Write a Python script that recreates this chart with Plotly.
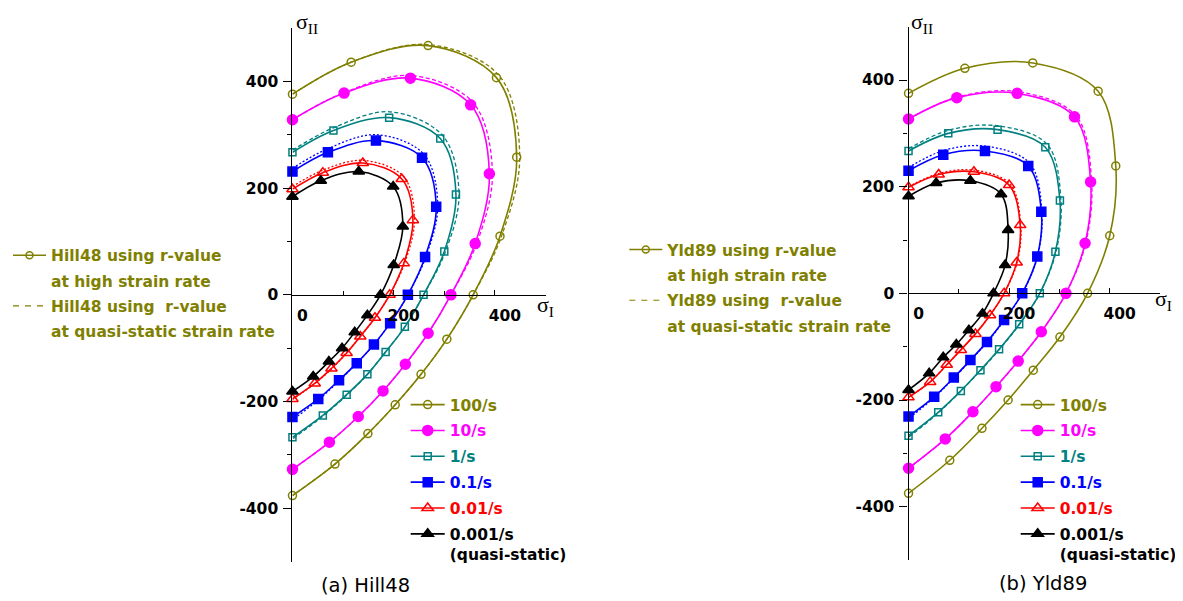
import plotly.graph_objects as go

# The page has an 8px body margin; the figure is sized to fill the rest of the window.
PAGE_W, PAGE_H, BODY = 1183, 601, 8
W, H = PAGE_W - BODY, PAGE_H - BODY


def PX(x):
    return (x - BODY) / W


def PY(y):
    return 1 - (y - BODY) / H


# ---------------- data (sigma_I, sigma_II) ----------------
rates = ['100/s', '10/s', '1/s', '0.1/s', '0.01/s', '0.001/s']
rate_labels = ['100/s', '10/s', '1/s', '0.1/s', '0.01/s', '0.001/s<br>(quasi-static)']
colors = ['#808000', '#FF00FF', '#008080', '#0000FF', '#FF0000', '#000000']
symbols = ['circle-open', 'circle', 'square-open', 'square', 'triangle-up-open', 'triangle-up']
msizes = [8, 10, 7, 9, 10, 10]
dashes = ['4px,2.5px', '4px,2.5px', '4px,2.5px', '2px,2px', '2px,2px', '4px,2.5px']

# Hill48, r-value at high strain rate (solid)
hill48_100 = [(0, 376), (116, 436), (268, 467), (403, 407), (443, 258), (410, 110), (357, 0),
              (305, -83), (254, -149), (203, -206), (149, -260), (84, -317), (0, -376)]
hill48_10 = [(0, 328), (102, 378), (233, 406), (352, 356), (389, 227), (361, 96), (313, 0),
             (268, -72), (223, -130), (179, -180), (130, -228), (73, -276), (0, -327)]
hill48_1 = [(0, 267), (81, 308), (191, 332), (292, 293), (323, 188), (300, 81), (259, 0),
            (222, -60), (184, -107), (148, -149), (107, -187), (60, -226), (0, -267)]
hill48_01 = [(0, 231), (70, 267), (165, 289), (256, 257), (284, 165), (262, 71), (228, 0),
             (193, -53), (161, -93), (127, -128), (92, -160), (51, -195), (0, -229)]
hill48_001 = [(0, 198), (60, 229), (139, 247), (216, 217), (238, 140), (220, 59), (192, 0),
              (163, -43), (134, -78), (107, -109), (77, -138), (44, -166), (0, -195)]
hill48_0001 = [(0, 184), (56, 214), (131, 231), (199, 203), (218, 128), (200, 56), (174, 0),
               (148, -38), (123, -70), (98, -100), (72, -125), (41, -153), (0, -181)]

# Hill48, r-value at quasi-static strain rate (dashed)
hill48_100_qs = [(0, 376), (116, 436), (268, 469), (408, 411), (449, 259), (413, 110), (357, 0),
                 (305, -83), (254, -149), (203, -206), (149, -260), (84, -317), (0, -376)]
hill48_10_qs = [(0, 328), (102, 379), (234, 411), (357, 360), (395, 228), (364, 96), (313, 0),
                (268, -72), (223, -130), (179, -180), (130, -228), (73, -276), (0, -327)]
hill48_1_qs = [(0, 271), (81, 313), (192, 343), (297, 298), (329, 189), (302, 80), (259, 0),
               (222, -60), (183, -108), (146, -151), (105, -190), (58, -229), (0, -270)]
hill48_01_qs = [(0, 237), (70, 274), (166, 300), (260, 263), (287, 166), (263, 70), (228, 0),
                (193, -53), (160, -94), (125, -130), (90, -163), (50, -198), (0, -234)]
hill48_001_qs = [(0, 203), (61, 234), (140, 252), (220, 221), (241, 141), (221, 58), (192, 0),
                 (163, -43), (134, -78), (106, -110), (77, -139), (43, -167), (0, -196)]

# Yld89, r-value at high strain rate (solid)
yld89_100 = [(0, 375), (112, 422), (247, 432), (377, 379), (412, 239), (400, 108), (356, 0),
             (301, -82), (248, -144), (198, -200), (146, -253), (82, -313), (0, -375)]
yld89_10 = [(0, 327), (96, 367), (216, 375), (330, 331), (362, 209), (351, 94), (313, 0),
            (264, -72), (218, -127), (174, -175), (128, -222), (73, -273), (0, -328)]
yld89_1 = [(0, 267), (79, 300), (177, 307), (272, 274), (301, 174), (292, 78), (261, 0),
           (220, -58), (180, -105), (143, -144), (104, -183), (59, -223), (0, -267)]
yld89_01 = [(0, 230), (69, 260), (152, 267), (238, 239), (264, 153), (256, 69), (226, 0),
            (190, -50), (156, -91), (123, -125), (90, -158), (51, -194), (0, -231)]
yld89_001 = [(0, 199), (60, 223), (130, 228), (200, 203), (222, 128), (215, 58), (190, 0),
             (162, -41), (133, -76), (104, -106), (76, -134), (43, -166), (0, -195)]
yld89_0001 = [(0, 182), (55, 207), (123, 211), (184, 186), (198, 119), (192, 53), (169, 0),
              (147, -38), (120, -69), (95, -96), (69, -120), (41, -150), (0, -181)]

# Yld89, r-value at quasi-static strain rate (dashed)
yld89_10_qs = [(0, 327), (97, 368), (218, 378), (333, 333), (364, 209), (352, 93), (313, 0),
               (264, -72), (218, -127), (174, -175), (128, -222), (73, -273), (0, -328)]
yld89_1_qs = [(0, 271), (80, 306), (179, 314), (276, 279), (303, 174), (293, 77), (261, 0),
              (220, -59), (180, -106), (142, -146), (102, -185), (57, -226), (0, -270)]
yld89_01_qs = [(0, 236), (70, 268), (153, 276), (241, 244), (265, 153), (256, 67), (226, 0),
               (190, -51), (156, -92), (122, -127), (88, -161), (49, -197), (0, -235)]
yld89_001_qs = [(0, 200), (61, 225), (131, 231), (202, 205), (223, 128), (216, 58), (190, 0),
                (162, -41), (133, -76), (104, -106), (76, -134), (43, -166), (0, -195)]

x_ticks = [0, 200, 400]
x_minor = [100, 300]
y_ticks = [-400, -200, 0, 200, 400]
y_minor = [-300, -100, 100, 300]

hill_solid = [hill48_100, hill48_10, hill48_1, hill48_01, hill48_001, hill48_0001]
hill_dash = [hill48_100_qs, hill48_10_qs, hill48_1_qs, hill48_01_qs, hill48_001_qs, None]
yld_solid = [yld89_100, yld89_10, yld89_1, yld89_01, yld89_001, yld89_0001]
yld_dash = [None, yld89_10_qs, yld89_1_qs, yld89_01_qs, yld89_001_qs, None]

FONT = 'DejaVu Sans'
OLIVE = '#808000'

fig = go.Figure()


def add_panel(solid, dash, xa, ya, legname, gprefix):
    for i, pts in enumerate(dash):
        if pts is None:
            continue
        fig.add_trace(go.Scatter(
            x=[p[0] for p in pts], y=[p[1] for p in pts], xaxis=xa, yaxis=ya,
            mode='lines', line=dict(color=colors[i], width=1.3, dash=dashes[i], shape='spline', smoothing=1.0),
            showlegend=False, hoverinfo='skip', cliponaxis=False))
    for i, pts in enumerate(solid):
        fig.add_trace(go.Scatter(
            x=[p[0] for p in pts], y=[p[1] for p in pts], xaxis=xa, yaxis=ya,
            mode='lines+markers',
            line=dict(color=colors[i], width=1.6, shape='spline', smoothing=1.0),
            marker=dict(symbol=symbols[i], size=msizes[i], color=colors[i], line=dict(color=colors[i], width=1.5)),
            name='<span style="color:%s">%s</span>' % (colors[i], rate_labels[i]),
            legend=legname, legendgroup=gprefix + str(i), cliponaxis=False))


add_panel(hill_solid, hill_dash, 'x', 'y', 'legend', 'h')
add_panel(yld_solid, yld_dash, 'x2', 'y2', 'legend3', 'y')


def add_model_legend(model, xa, ya, legname, gprefix):
    fig.add_trace(go.Scatter(x=[None], y=[None], xaxis=xa, yaxis=ya, mode='lines+markers',
                             line=dict(color=OLIVE, width=1.5),
                             marker=dict(symbol='circle-open', size=7, color=OLIVE, line=dict(color=OLIVE, width=1.5)),
                             name=model + ' using r-value', legend=legname, legendgroup=gprefix + 'a'))
    fig.add_trace(go.Scatter(x=[None], y=[None], xaxis=xa, yaxis=ya, mode='lines',
                             line=dict(color='rgba(0,0,0,0)', width=0),
                             name='at high strain rate', legend=legname, legendgroup=gprefix + 'b'))
    fig.add_trace(go.Scatter(x=[None], y=[None], xaxis=xa, yaxis=ya, mode='lines',
                             line=dict(color=OLIVE, width=1.2, dash='6px,6px'),
                             name=model + ' using\u00a0 r-value', legend=legname, legendgroup=gprefix + 'c'))
    fig.add_trace(go.Scatter(x=[None], y=[None], xaxis=xa, yaxis=ya, mode='lines',
                             line=dict(color='rgba(0,0,0,0)', width=0),
                             name='at quasi-static strain rate', legend=legname, legendgroup=gprefix + 'd'))


add_model_legend('Hill48', 'x', 'y', 'legend2', 'mh')
add_model_legend('Yld89', 'x2', 'y2', 'legend4', 'my')

tickfont = dict(family=FONT, size=15.5, color='black', weight='bold')


def xaxis_cfg(dom, pos):
    return dict(domain=dom, range=[0, 500], anchor='free', position=pos, showline=True,
                linecolor='black', linewidth=1.3, ticks='inside', ticklen=5, tickwidth=1.3,
                tickcolor='black', tickvals=x_ticks, ticktext=[str(v) for v in x_ticks],
                tickfont=tickfont, ticklabelshift=10, ticklabelstandoff=6,
                minor=dict(tickvals=x_minor, ticks='inside', ticklen=4, tickwidth=1.2, tickcolor='black', showgrid=False),
                showgrid=False, zeroline=False, fixedrange=True)


def yaxis_cfg(dom, anchor):
    return dict(domain=dom, range=[-500, 500], anchor=anchor, showline=True,
                linecolor='black', linewidth=1.3, ticks='outside', ticklen=8, tickwidth=1.3,
                tickcolor='black', tickvals=y_ticks, ticktext=[str(v) for v in y_ticks],
                tickfont=tickfont, ticklabelstandoff=2,
                minor=dict(tickvals=y_minor, ticks='outside', ticklen=4, tickwidth=1.2, tickcolor='black', showgrid=False),
                showgrid=False, zeroline=False, fixedrange=True)


yd1 = [PY(561.7), PY(28)]
yd2 = [PY(560), PY(26.7)]
fig.update_layout(
    width=W, height=H, margin=dict(l=0, r=0, t=0, b=0),
    paper_bgcolor='white', plot_bgcolor='rgba(0,0,0,0)',
    xaxis=xaxis_cfg([PX(291.7), PX(545)], (yd1[0] + yd1[1]) / 2),
    yaxis=yaxis_cfg(yd1, 'x'),
    xaxis2=xaxis_cfg([PX(908.3), PX(1160)], (yd2[0] + yd2[1]) / 2),
    yaxis2=yaxis_cfg(yd2, 'x2'),
    showlegend=True,
)

legfont = dict(family=FONT, size=15.5, weight='bold')
common = dict(xref='paper', yref='paper', xanchor='left', yanchor='top', bgcolor='rgba(0,0,0,0)',
              borderwidth=0, traceorder='grouped', valign='top')
fig.update_layout(
    legend=dict(x=PX(405.7), y=PY(388), itemwidth=34, tracegroupgap=2.7,
                font=dict(color='black', **legfont), **common),
    legend3=dict(x=PX(1015.7), y=PY(388), itemwidth=34, tracegroupgap=2.7,
                 font=dict(color='black', **legfont), **common),
    legend2=dict(x=PX(6.7), y=PY(238.7), itemwidth=33, tracegroupgap=2.2,
                 font=dict(color=OLIVE, **legfont), **common),
    legend4=dict(x=PX(624.3), y=PY(233), itemwidth=33, tracegroupgap=2.2,
                 font=dict(color=OLIVE, **legfont), **common),
)

serif = dict(family='Liberation Serif', size=22, color='black')
ann = [
    dict(x=PX(294), y=1, text='\u03c3<sub>II</sub>', yanchor='top'),
    dict(x=PX(535), y=PY(306), text='\u03c3<sub>I</sub>', yanchor='middle'),
    dict(x=PX(910), y=1, text='\u03c3<sub>II</sub>', yanchor='top'),
    dict(x=PX(1154), y=PY(300), text='\u03c3<sub>I</sub>', yanchor='middle'),
]
for a in ann:
    fig.add_annotation(xref='paper', yref='paper', showarrow=False, font=serif,
                       xanchor='left', borderpad=0, **a)

capfont = dict(family=FONT, size=19.5, color='black')
fig.add_annotation(xref='paper', yref='paper', x=PX(365), y=PY(585), text='(a) Hill48',
                   showarrow=False, xanchor='center', yanchor='middle', font=capfont)
fig.add_annotation(xref='paper', yref='paper', x=PX(1043), y=PY(583), text='(b) Yld89',
                   showarrow=False, xanchor='center', yanchor='middle', font=capfont)

fig.write_html('out.html')
